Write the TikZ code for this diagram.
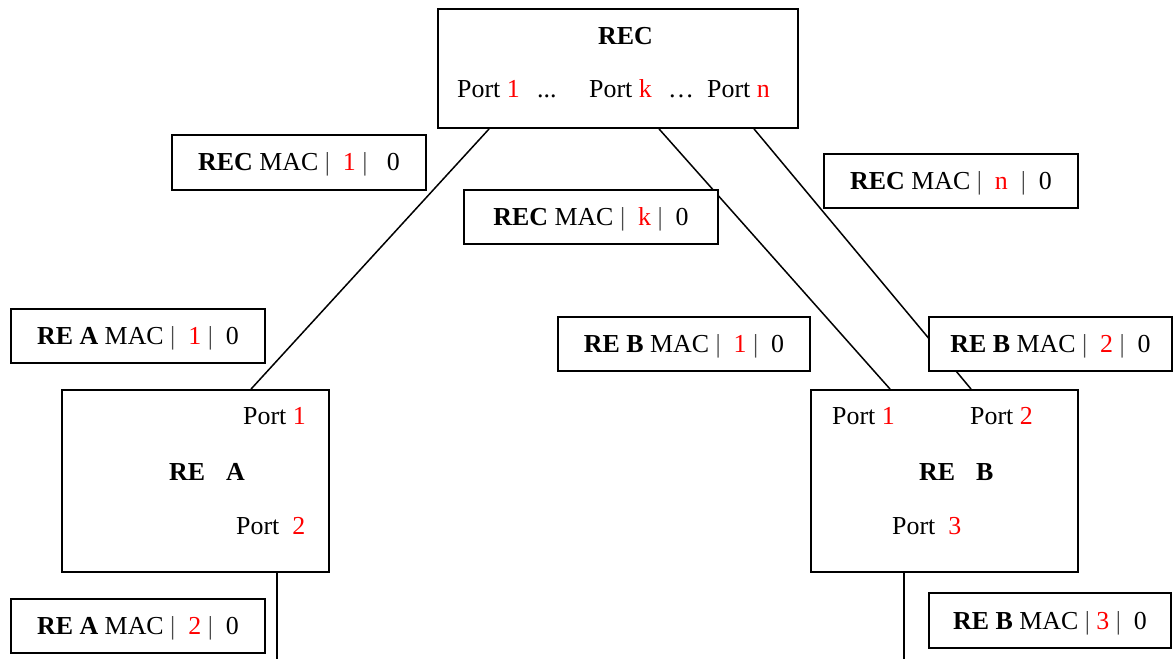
\documentclass[tikz,border=0pt]{standalone}
\usepackage{fontspec}
\setmainfont{Liberation Serif}
\usepackage{xcolor}
\usetikzlibrary{calc}
\definecolor{bar}{HTML}{4A4A4A}
\newcommand{\rnum}[1]{\textcolor{red}{#1}}
\newcommand{\pbar}{\textcolor{bar}{|}}

\begin{document}
\begin{tikzpicture}[
  x=1bp, y=-1bp,
  font=\fontsize{26}{31}\selectfont,
  unit/.style={rectangle, draw=black, line width=1.9bp, fill=white, inner sep=0},
  macbox/.style={rectangle, draw=black, line width=1.9bp, fill=white,
                 inner sep=0, minimum width=254bp, minimum height=54bp,
                 text height=17bp, text depth=0pt},
  lbl/.style={inner sep=0, anchor=base west},
  link/.style={line width=1.5bp}
]
\useasboundingbox (0,0) rectangle (1174,659);
\coordinate (floor) at (0,659);

% --- units ---
\node[unit, minimum width=360bp, minimum height=119bp] at (618,68.5) (rec) {};
\node[unit, minimum width=267bp, minimum height=182bp] at (195.5,481) (reA) {};
\node[unit, minimum width=267bp, minimum height=182bp] at (944.5,481) (reB) {};

% --- REC labels ---
\node[inner sep=0, anchor=base] at (625.5,45) (recT) {\textbf{REC}};
\node[lbl] at (457,98) (recP1) {Port \rnum{1}};
\node[lbl] at (537,98) (recD1) {...};
\node[lbl] at (589,98) (recPk) {Port \rnum{k}};
\node[lbl] at (668,98) (recD2) {…};
\node[lbl] at (707,98) (recPn) {Port \rnum{n}};

% --- RE A labels ---
\node[lbl] at (243,424) (reAP1) {Port \rnum{1}};
\node[lbl] at (169,480) (reAT)  {\textbf{RE\hspace{21bp}A}};
\node[lbl] at (236,534) (reAP2) {Port\ \ \rnum{2}};

% --- RE B labels ---
\node[lbl] at (832,424) (reBP1) {Port \rnum{1}};
\node[lbl] at (970,424) (reBP2) {Port \rnum{2}};
\node[lbl] at (919,480) (reBT)  {\textbf{RE\hspace{21bp}B}};
\node[lbl] at (892,534) (reBP3) {Port\ \ \rnum{3}};

% --- links ---
\draw[link] ($(rec.south west)+(52,0)$)  -- ($(reA.north west)+(190,0)$);
\draw[link] ($(rec.south west)+(222,0)$) -- ($(reB.north west)+(80,0)$);
\draw[link] ($(rec.south west)+(317,0)$) -- ($(reB.north west)+(161,0)$);
\coordinate (reAout) at ($(reA.south west)+(216,0)$);
\coordinate (reBout) at ($(reB.south west)+(94,0)$);
\draw[link] (reAout) -- (reAout |- floor);
\draw[link] (reBout) -- (reBout |- floor);

% --- MAC headers ---
\node[macbox, minimum height=55bp] at (299,162.5) (mRec1) {\textbf{REC} MAC\ \pbar\ \ \rnum{1}\ \pbar\ \ \ 0};
\node[macbox] at (591,217)   (mReck) {\textbf{REC} MAC\ \pbar\ \ \rnum{k}\ \pbar\ \ 0};
\node[macbox] at (951,181)   (mRecn) {\textbf{REC} MAC\ \pbar\ \ \rnum{n}\ \ \pbar\ \ 0};
\node[macbox] at (138,336)   (mReA1) {\textbf{RE A} MAC\ \pbar\ \ \rnum{1}\ \pbar\ \ 0};
\node[macbox, minimum width=252bp] at (684,344) (mReB1) {\textbf{RE B} MAC\ \pbar\ \ \rnum{1}\ \pbar\ \ 0};
\node[macbox, minimum width=243bp] at (1050.5,344) (mReB2) {\textbf{RE B} MAC\ \pbar\ \ \rnum{2}\ \pbar\ \ 0};
\node[macbox] at (138,626)   (mReA2) {\textbf{RE A} MAC\ \pbar\ \ \rnum{2}\ \pbar\ \ 0};
\node[macbox, minimum width=242bp, minimum height=55bp] at (1050,620.5) (mReB3) {\textbf{RE B} MAC\ \pbar\ \rnum{3}\ \pbar\ \ 0};
\end{tikzpicture}
\end{document}
